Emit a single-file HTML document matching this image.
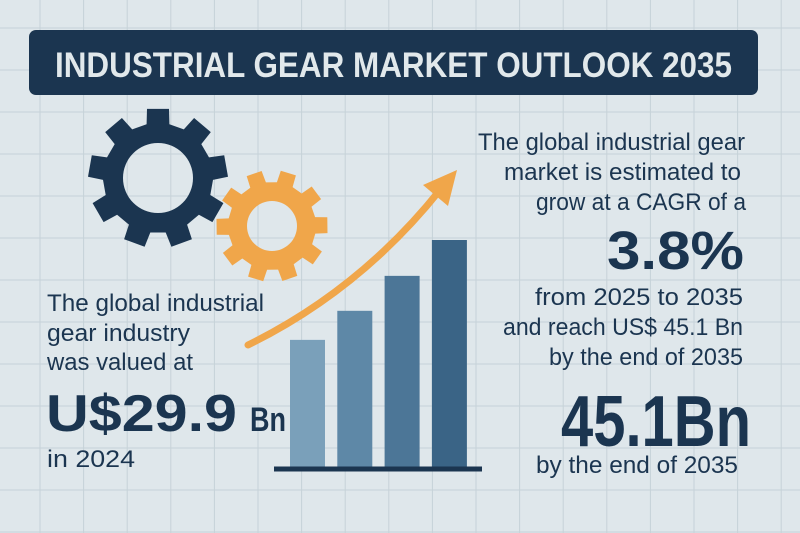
<!DOCTYPE html>
<html><head><meta charset="utf-8">
<style>
html,body{margin:0;padding:0;background:#dfe7eb;}
svg{display:block;}
text{font-family:"Liberation Sans",sans-serif;fill:#1b3550;}
</style></head>
<body>
<svg id="chart" width="800" height="533" viewBox="0 0 800 533" xmlns="http://www.w3.org/2000/svg">
<rect x="0" y="0" width="800" height="533" fill="#dfe7eb"/>
<g id="grid"></g>
<rect x="29" y="30" width="729" height="65" rx="7" fill="#1b3550"/>
<text x="55" y="77" font-size="35" font-weight="bold" style="fill:#e1e8eb" textLength="677" lengthAdjust="spacingAndGlyphs">INDUSTRIAL GEAR MARKET OUTLOOK 2035</text>
<g id="gears"></g>
<g id="bars"></g>
<line x1="274" y1="469" x2="482" y2="469" stroke="#1b3550" stroke-width="5"/>
<path d="M248,345 Q360,290 440,190" fill="none" stroke="#f0a64a" stroke-width="7" stroke-linecap="round"/>
<polygon points="457,170 448,206 423,185" fill="#f0a64a"/>

<g>
<text x="47" y="311" font-size="24" textLength="217" lengthAdjust="spacingAndGlyphs">The global industrial</text>
<text x="47" y="341" font-size="24" textLength="143" lengthAdjust="spacingAndGlyphs">gear industry</text>
<text x="47" y="370" font-size="24" textLength="146" lengthAdjust="spacingAndGlyphs">was valued at</text>
<text x="46" y="431" font-size="52" font-weight="bold" textLength="191" lengthAdjust="spacingAndGlyphs">U$29.9</text>
<text x="250" y="431" font-size="34" font-weight="bold" textLength="36" lengthAdjust="spacingAndGlyphs">Bn</text>
<text x="47" y="467" font-size="24" textLength="88" lengthAdjust="spacingAndGlyphs">in 2024</text>
</g>

<g text-anchor="end">
<text x="745" y="150" font-size="24" textLength="267" lengthAdjust="spacingAndGlyphs">The global industrial gear</text>
<text x="741" y="180" font-size="24" textLength="237" lengthAdjust="spacingAndGlyphs">market is estimated to</text>
<text x="746" y="210" font-size="24" textLength="210" lengthAdjust="spacingAndGlyphs">grow at a CAGR of a</text>
<text x="744" y="269" font-size="54" font-weight="bold" textLength="137" lengthAdjust="spacingAndGlyphs">3.8%</text>
<text x="743" y="305" font-size="24" textLength="208" lengthAdjust="spacingAndGlyphs">from 2025 to 2035</text>
<text x="743" y="335" font-size="24" textLength="240" lengthAdjust="spacingAndGlyphs">and reach US$ 45.1 Bn</text>
<text x="743" y="365" font-size="24" textLength="194" lengthAdjust="spacingAndGlyphs">by the end of 2035</text>
<text x="751" y="446" font-size="72" font-weight="bold" textLength="190" lengthAdjust="spacingAndGlyphs">45.1Bn</text>
<text x="738" y="473" font-size="24" textLength="202" lengthAdjust="spacingAndGlyphs">by the end of 2035</text>
</g>
</svg>
<script>
const categories = ["Y1","Y2","Y3","Y4"];
const barValues = [28, 34.4, 42.1, 50];
const barColors = ["#7aa0ba","#5e88a7","#4c7697","#3a6486"];
const NS="http://www.w3.org/2000/svg";
const baseY=467, pxPerUnit=4.54, x0=290, step=47.3, bw=35;
function yScale(v){return baseY - v*pxPerUnit;}
function xScale(i){return x0 + i*step;}
const bars=document.getElementById('bars');
categories.forEach((c,i)=>{
  const r=document.createElementNS(NS,'rect');
  r.setAttribute('x',xScale(i));
  r.setAttribute('y',yScale(barValues[i]));
  r.setAttribute('width',bw);
  r.setAttribute('height',baseY-yScale(barValues[i]));
  r.setAttribute('fill',barColors[i]);
  
  
  bars.appendChild(r);
});
const grid=document.getElementById('grid');
let d="";
for(let x=40;x<800;x+=43.6){d+=`M${x.toFixed(1)},0V533`;}
for(let y=28;y<533;y+=42){d+=`M0,${y}H800`;}
const gp=document.createElementNS(NS,'path');
gp.setAttribute('d',d);gp.setAttribute('stroke','#c6d2d8');gp.setAttribute('stroke-width','1');gp.setAttribute('fill','none');


grid.appendChild(gp);
function gearPath(cx,cy,rOut,rIn,teeth,hole,rot){
  let p="";const n=teeth;
  for(let i=0;i<n;i++){
    const a=rot+i*2*Math.PI/n, w=Math.PI/n;
    const pts=[[rIn,a-w*0.6],[rOut,a-w*0.45],[rOut,a+w*0.45],[rIn,a+w*0.6]];
    pts.forEach((q,j)=>{const X=cx+q[0]*Math.cos(q[1]),Y=cy+q[0]*Math.sin(q[1]);p+=(i==0&&j==0?"M":"L")+X.toFixed(1)+","+Y.toFixed(1);});
  }
  p+="Z";
  p+=`M${cx+hole},${cy}A${hole},${hole} 0 1,0 ${cx-hole},${cy}A${hole},${hole} 0 1,0 ${cx+hole},${cy}Z`;
  return p;
}
const gears=document.getElementById('gears');
const g1=document.createElementNS(NS,'path');
g1.setAttribute('d',gearPath(158,178,70,55,9,35,-Math.PI/2));
g1.setAttribute('fill','#1b3550');g1.setAttribute('fill-rule','evenodd');


gears.appendChild(g1);
const g2=document.createElementNS(NS,'path');
g2.setAttribute('d',gearPath(272,226,56,44,10,25,-Math.PI/2+0.3));
g2.setAttribute('fill','#f0a64a');g2.setAttribute('fill-rule','evenodd');


gears.appendChild(g2);
</script>
</body></html>
